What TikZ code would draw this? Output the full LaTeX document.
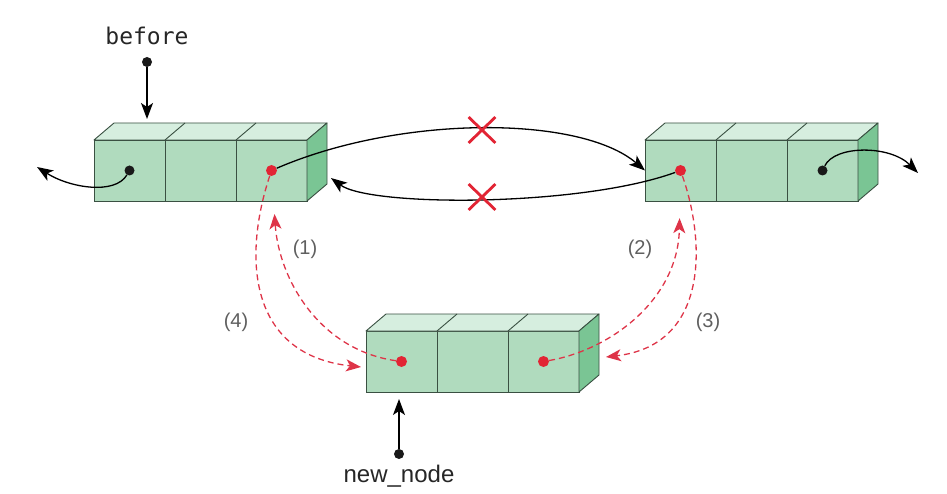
\documentclass[tikz,border=0pt]{standalone}
\usepackage{fontspec}
\setmainfont{Liberation Sans}
\newfontfamily\monofnt{DejaVu Sans Mono}
\usetikzlibrary{arrows.meta,shapes.misc,calc}
\definecolor{frontc}{RGB}{176,219,190}
\definecolor{topc}{RGB}{214,238,223}
\definecolor{sidec}{RGB}{122,197,148}
\definecolor{edgec}{RGB}{58,80,66}
\definecolor{redc}{RGB}{226,36,52}
\definecolor{dashc}{RGB}{222,52,72}
\definecolor{labc}{RGB}{95,95,95}
\tikzset{
  cell/.style={draw=edgec, fill=frontc, line width=0.9pt, minimum width=71pt, minimum height=61pt, inner sep=0pt, outer sep=0pt, anchor=north west},
  topface/.style={fill=topc, draw=edgec, line width=0.9pt, line join=round},
  sideface/.style={fill=sidec, draw=edgec, line width=0.9pt, line join=round},
  bdot/.style={circle, fill=black!90, inner sep=0pt, minimum size=10pt},
  rdot/.style={circle, fill=redc, inner sep=0pt, minimum size=11pt},
  blk/.style={line width=1.3pt, -{Stealth[length=16pt,width=12pt,inset=4pt]}},
  rdash/.style={dashc, line width=1.3pt, dash pattern=on 6pt off 4pt, -{Stealth[length=15pt,width=12pt,inset=4pt]}},
  xmark/.style={cross out, draw=redc, line width=2.8pt, minimum width=24pt, minimum height=23pt, inner sep=0pt},
  lab/.style={text=labc, font=\fontsize{20}{23}\selectfont}
}
\newcommand{\llbox}[4]{%
  \node[cell] (#1a) at (#2,#3) {};
  \node[cell] (#1b) at ($(#1a.north east)$) {};
  \node[cell] (#1c) at ($(#1b.north east)$) {};
  \path[topface] (#1a.north west) -- ++(20pt,17pt) -- ($(#1c.north east)+(20pt,17pt)$) -- (#1c.north east) -- cycle;
  \draw[edgec, line width=0.9pt] (#1b.north west) -- ++(20pt,17pt);
  \draw[edgec, line width=0.9pt] (#1c.north west) -- ++(20pt,17pt);
  \path[sideface] (#1c.north east) -- ++(20pt,17pt) -- ($(#1c.south east)+(20pt,17pt)$) -- (#1c.south east) -- cycle;
}
\begin{document}
\begin{tikzpicture}[x=1pt,y=-1pt]
\useasboundingbox (0,0) rectangle (947,494);
% boxes
\llbox{L}{94}{140}{}
\llbox{R}{645}{140}{}
\llbox{N}{366}{331}{}
% dots
\node[bdot] (Ld1) at (La.center) {};
\node[rdot] (Ld3) at (Lc.center) {};
\node[rdot] (Rd1) at (Ra.center) {};
\node[bdot] (Rd3) at (Rc.center) {};
\node[rdot] (Nd1) at (Na.center) {};
\node[rdot] (Nd3) at (Nc.center) {};
% pointer labels
\node[font=\monofnt\fontsize{23}{26}\selectfont, text=black!85] (before) at (147,36) {before};
\node[bdot] (bdot0) at (147,62) {};
\coordinate (btip) at (147,119);
\draw[blk] (bdot0) -- (btip);
\node[font=\fontsize{24}{28}\selectfont, text=black!85] (newnode) at (399,476) {new\_node};
\node[bdot] (ndot0) at (399,454) {};
\coordinate (ntip) at (399,399);
\draw[blk] (ndot0) -- (ntip);
% outer arrows
\coordinate (Lout) at (37,167);
\coordinate (Rout) at (918,173);
\draw[blk] (Ld1) .. controls (115,195) and (70,188) .. (Lout);
\draw[blk] (Rd3) .. controls (835,145) and (890,145) .. (Rout);
% old links
\coordinate (Lside) at (331,178);
\draw[blk] (Ld3) .. controls (400,115) and (580,115) .. (Ra.west);
\draw[blk] (Rd1) .. controls (580,207) and (370,207) .. (Lside);
\node[xmark] (x1) at (482,130) {};
\node[xmark] (x2) at (482,197) {};
% new links (dashed)
\coordinate (N4in) at (361,367);
\coordinate (N3in) at (606,357);
\draw[rdash, shorten >=38pt] (Nd1) .. controls (320,350) and (279,280) .. (Ld3);
\draw[rdash] (Ld3) .. controls (242,260) and (250,355) .. (N4in);
\draw[rdash, shorten >=42pt] (Nd3) .. controls (610,350) and (678,300) .. (Rd1);
\draw[rdash] (Rd1) .. controls (705,240) and (710,345) .. (N3in);
% step labels
\node[lab] (s1) at (305,249) {(1)};
\node[lab] (s2) at (640,249) {(2)};
\node[lab] (s3) at (708,322) {(3)};
\node[lab] (s4) at (236,322) {(4)};
\end{tikzpicture}
\end{document}
